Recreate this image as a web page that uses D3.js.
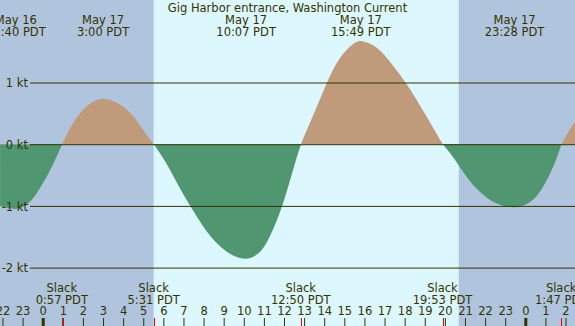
<!DOCTYPE html>
<html>
<head>
<meta charset="utf-8">
<script src="https://cdn.jsdelivr.net/npm/d3@7"></script>
<style>
  body { margin: 0; overflow: hidden; }
  svg { display: block; }
  text { font-family: "DejaVu Sans"; font-size: 11.5px; fill: #333300; }
</style>
</head>
<body>
<script>
// hours are counted from May 17 00:00 PDT, current in knots (flood > 0)
const hours = [-2.12, -2, -1.333, -1, -0.5, 0, 0.5, 0.95, 1.5, 2, 2.5, 3, 3.5, 4, 4.5, 5, 5.517,
  6, 6.5, 7, 7.5, 8, 8.5, 9, 9.5, 10.117, 10.5, 11, 11.5, 12, 12.5, 12.833,
  13, 13.5, 14, 14.5, 15, 15.5, 15.817, 16.5, 17, 17.5, 18, 18.5, 19, 19.5, 19.883,
  20, 20.5, 21, 21.5, 22, 22.5, 23, 23.467, 24, 24.5, 25, 25.5, 25.783, 26, 26.47]
const knots = [-1.00, -1.02, -1.06, -1.03, -0.91, -0.64, -0.35, 0, 0.35, 0.57, 0.70, 0.75, 0.71, 0.62, 0.47, 0.23, 0,
  -0.22, -0.52, -0.82, -1.09, -1.35, -1.56, -1.71, -1.82, -1.87, -1.83, -1.70, -1.36, -0.93, -0.36, 0,
  0.13, 0.50, 0.90, 1.27, 1.50, 1.65, 1.69, 1.61, 1.45, 1.24, 1.03, 0.77, 0.50, 0.22, 0,
  -0.04, -0.24, -0.50, -0.70, -0.85, -0.96, -1.01, -1.03, -0.99, -0.89, -0.64, -0.30, 0, 0.13, 0.36]

// max flood / max ebb events
const peakHours = [-1.333, 3.0, 10.117, 15.817, 23.467]
const peakDates = ['May 16', 'May 17', 'May 17', 'May 17', 'May 17']
const peakTimes = ['22:40 PDT', '3:00 PDT', '10:07 PDT', '15:49 PDT', '23:28 PDT']

// slack water events
const slackHours = [0.95, 5.517, 12.833, 19.883, 25.783]
const slackTimes = ['0:57 PDT', '5:31 PDT', '12:50 PDT', '19:53 PDT', '1:47 PDT']

const sunrise = 5.517, sunset = 20.69
const knotTicks = [1, 0, -1, -2]
const hourTicks = d3.range(-2, 27)

const width = 575, height = 326
const title = 'Gig Harbor entrance, Washington Current'

const svg = d3.select('body').append('svg')
  .attr('width', width)
  .attr('height', height)

const xScale = d3.scaleLinear()
  .domain([0, 24])
  .range([42.7, 525.3])

const yScale = d3.scaleLinear()
  .domain([-2, 1])
  .range([267.6, 82.5])

// night / day background
svg.append('rect')
  .attr('width', width).attr('height', height)
  .attr('fill', '#b0c4de')
svg.append('rect')
  .attr('x', xScale(sunrise))
  .attr('width', xScale(sunset) - xScale(sunrise))
  .attr('height', height)
  .attr('fill', '#ddf7ff')

// clip areas above and below the zero line
const defs = svg.append('defs')
defs.append('clipPath').attr('id', 'above')
  .append('rect').attr('width', width).attr('height', yScale(0))
defs.append('clipPath').attr('id', 'below')
  .append('rect').attr('y', yScale(0)).attr('width', width).attr('height', height)

const area = d3.area()
  .x((d, i) => xScale(hours[i]))
  .y0(yScale(0))
  .y1(d => yScale(d))
  .curve(d3.curveBasis)

svg.append('path')
  .attr('d', area(knots))
  .attr('fill', '#bf9b7b')
  .attr('clip-path', 'url(#above)')

svg.append('path')
  .attr('d', area(knots))
  .attr('fill', '#509670')
  .attr('clip-path', 'url(#below)')

// knot gridlines
const yAxis = svg.append('g')
  .attr('transform', 'translate(30,0)')
  .call(d3.axisLeft(yScale)
    .tickValues(knotTicks)
    .tickSize(-(width - 30))
    .tickPadding(2)
    .tickFormat(d => d + ' kt'))
yAxis.select('.domain').remove()
yAxis.attr('font-family', null).attr('font-size', null)
yAxis.selectAll('line').attr('stroke', '#333300')
yAxis.selectAll('text').attr('fill', '#333300').attr('dy', '0.36em')

// hour ticks along the bottom
const xAxis = svg.append('g')
  .attr('transform', 'translate(0,' + height + ')')
  .call(d3.axisTop(xScale)
    .tickValues(hourTicks)
    .tickSize(8)
    .tickPadding(3)
    .tickFormat(d => (d + 24) % 24))
xAxis.select('.domain').remove()
xAxis.attr('font-family', null).attr('font-size', null)
xAxis.selectAll('line')
  .attr('stroke', '#333300')
  .attr('stroke-width', d => d % 24 === 0 ? 3 : 1)
xAxis.selectAll('text').attr('fill', '#333300')

// slack markers
svg.selectAll('.slack-tick')
  .data(slackHours)
  .enter()
  .append('line')
  .attr('x1', d => Math.round(xScale(d)) + 0.5)
  .attr('x2', d => Math.round(xScale(d)) + 0.5)
  .attr('y1', height - 8)
  .attr('y2', height)
  .attr('stroke', 'red')

svg.selectAll('.slack-word')
  .data(slackHours)
  .enter()
  .append('text')
  .attr('x', d => xScale(d))
  .attr('y', 291.5)
  .attr('text-anchor', 'middle')
  .text('Slack')

svg.selectAll('.slack-time')
  .data(slackHours)
  .enter()
  .append('text')
  .attr('x', d => xScale(d))
  .attr('y', 304)
  .attr('text-anchor', 'middle')
  .text((d, i) => slackTimes[i])

// peak labels along the top
svg.selectAll('.peak-date')
  .data(peakHours)
  .enter()
  .append('text')
  .attr('x', d => xScale(d))
  .attr('y', 24)
  .attr('text-anchor', 'middle')
  .text((d, i) => peakDates[i])

svg.selectAll('.peak-time')
  .data(peakHours)
  .enter()
  .append('text')
  .attr('x', d => xScale(d))
  .attr('y', 36)
  .attr('text-anchor', 'middle')
  .text((d, i) => peakTimes[i])

svg.append('text')
  .attr('x', width / 2)
  .attr('y', 12)
  .attr('text-anchor', 'middle')
  .text(title)
</script>
</body>
</html>
